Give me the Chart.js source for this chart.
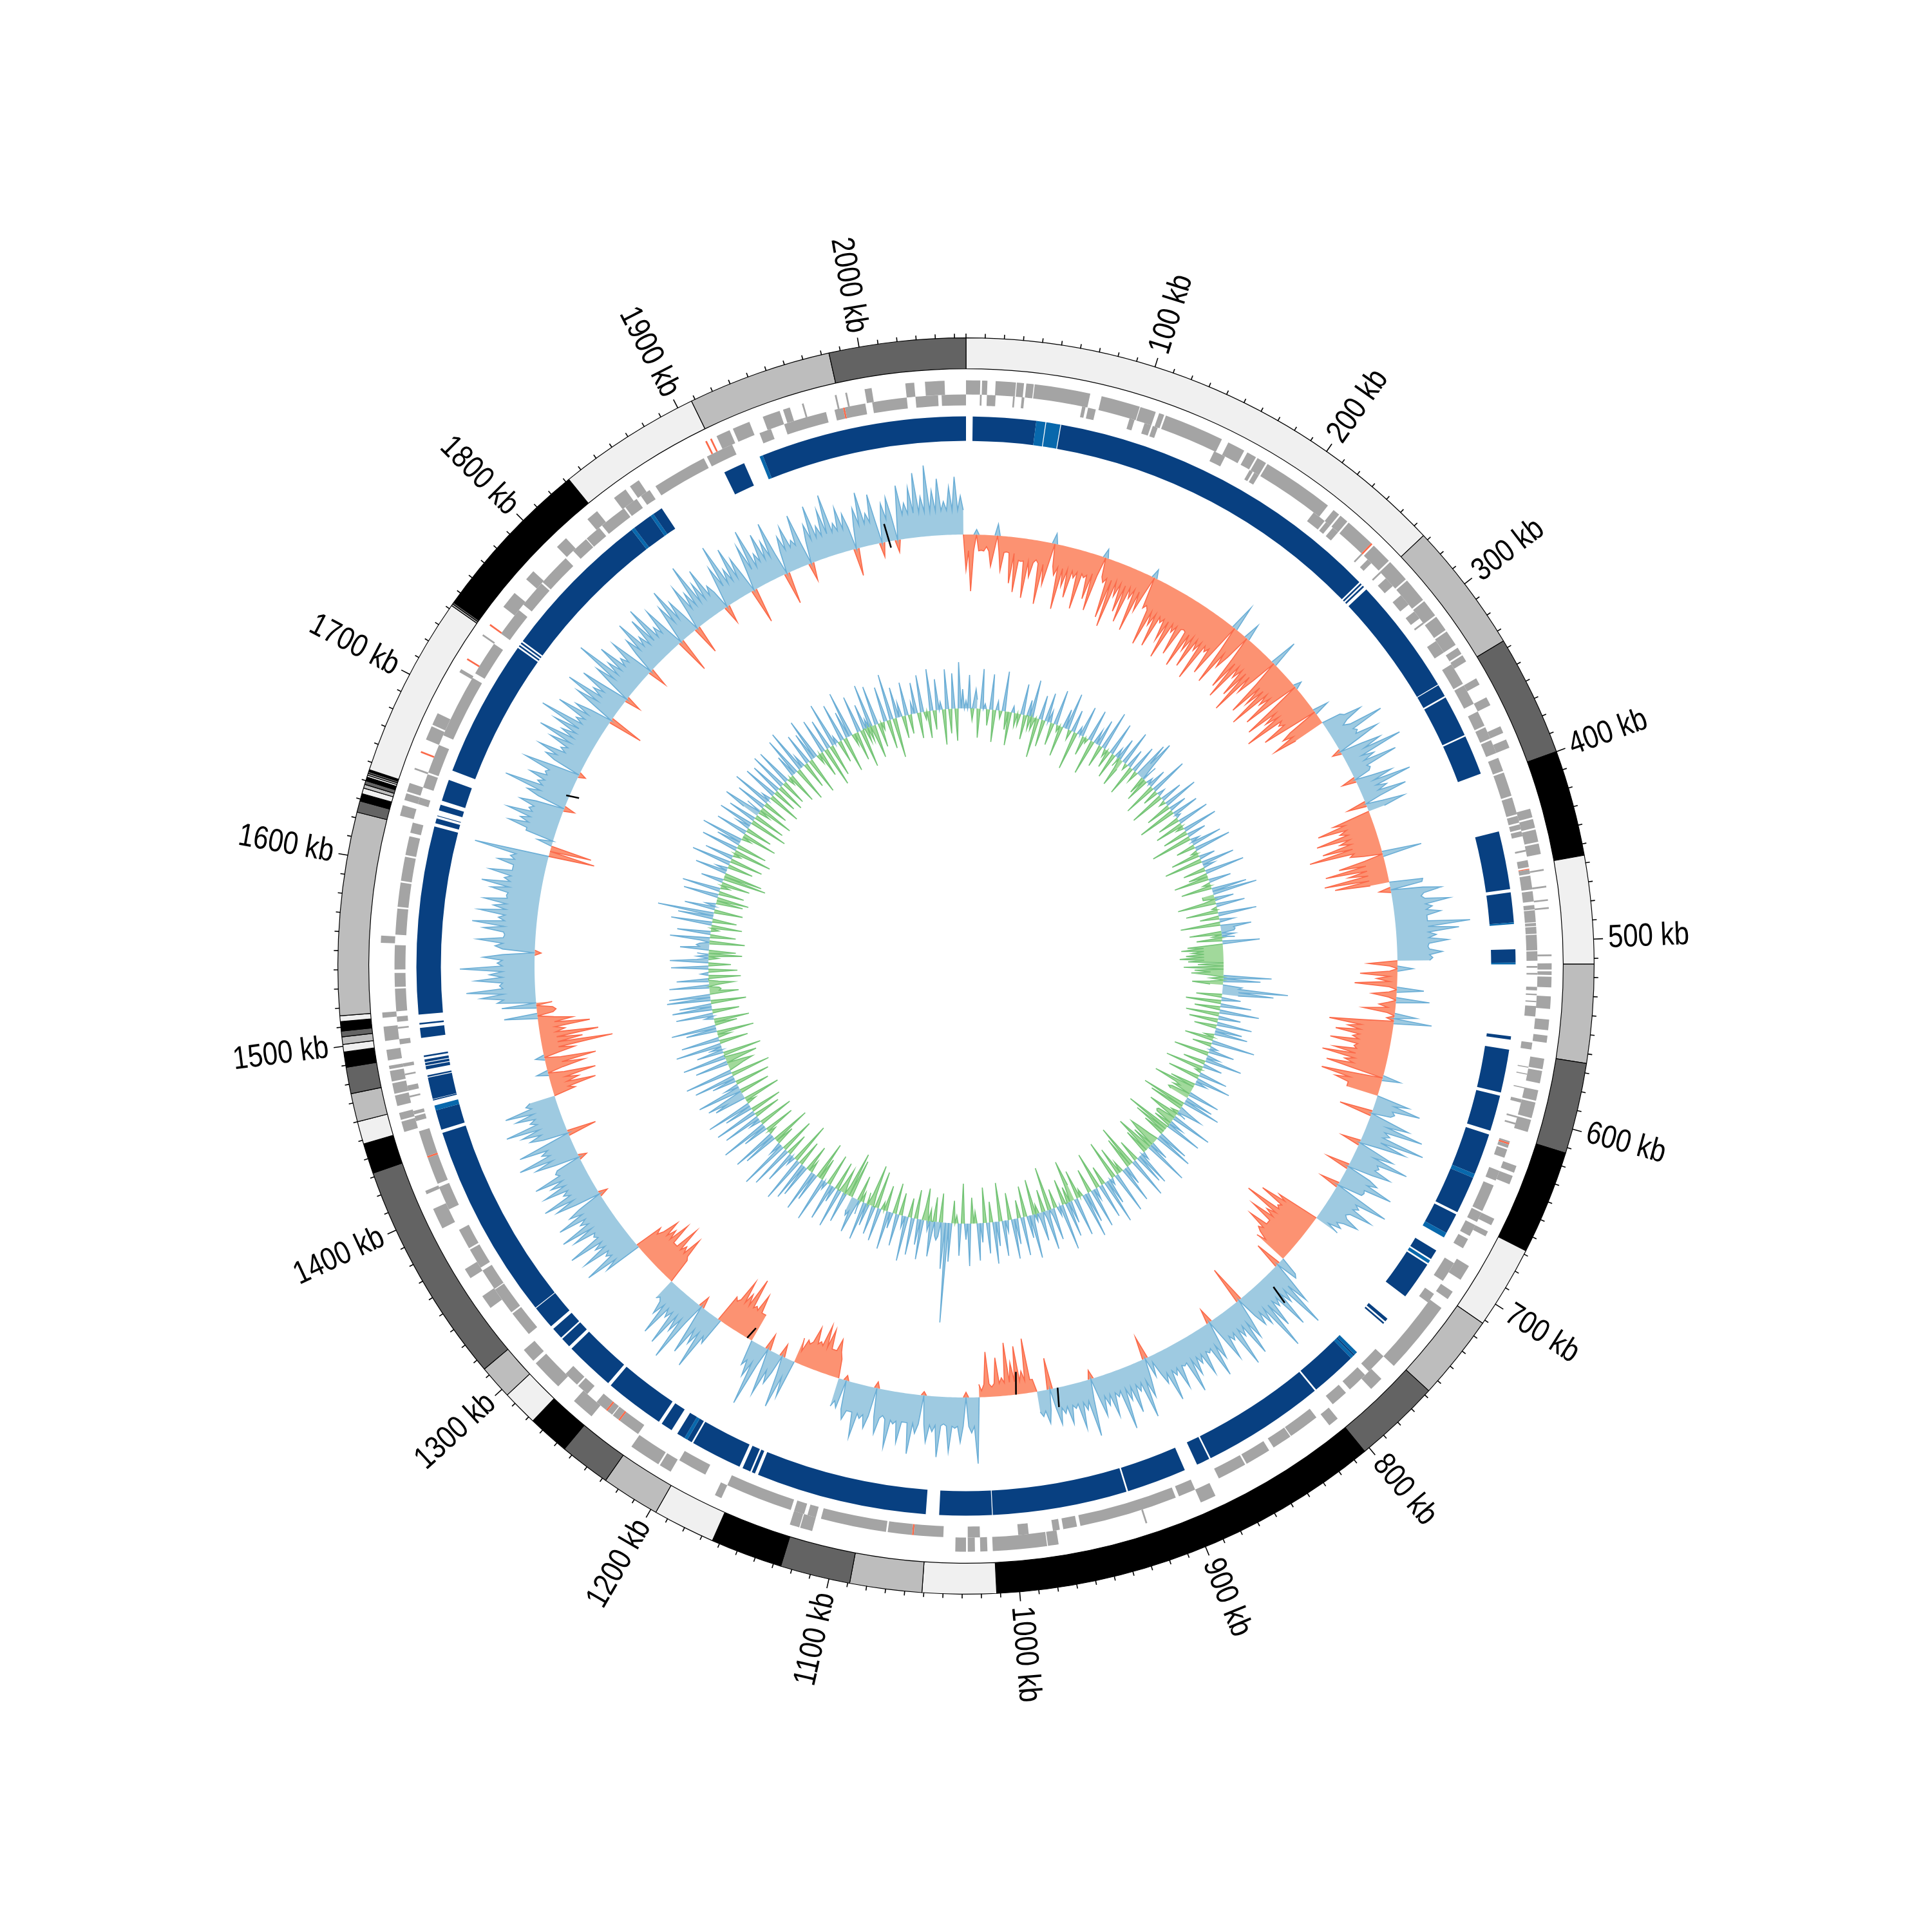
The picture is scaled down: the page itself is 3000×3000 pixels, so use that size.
<!DOCTYPE html>
<html>
<head>
<meta charset="utf-8">
<title>Circular genome map</title>
<script src="https://cdn.jsdelivr.net/npm/chart.js@4/dist/chart.umd.min.js"></script>
<style>
  html, body { margin: 0; background: #fff; }
  canvas { position: absolute; left: 0; top: 0; }
</style>
</head>
<body>
<canvas id="rings" width="3000" height="3000"></canvas>
<canvas id="tracks" width="3000" height="3000"></canvas>
<script>
const genomeKb = 2056;
const binKb = 4;

const tickKb = [100, 200, 300, 400, 500, 600, 700, 800, 900, 1000, 1100, 1200, 1300, 1400, 1500, 1600, 1700, 1800, 1900, 2000];

// contig ends in kb, shades cycle light -> black
const contigEnds = [267, 336, 400, 456, 513, 565, 613, 668, 712, 757, 803, 1012, 1051, 1089, 1126, 1164, 1197, 1228, 1255, 1277, 1296, 1314, 1432, 1448, 1460, 1475, 1489, 1497, 1501, 1505, 1508, 1513, 1516, 1623, 1629, 1633, 1636, 1638, 1640, 1642, 1643, 1644, 1645, 1646, 1742, 1743, 1744, 1832, 1908, 1984, 2056];
const contigShades = ['#f0f0f0', '#bdbdbd', '#636363', '#000000'];

// genes, flat start,end pairs in kb
const geneFwd = [0,8, 9,12, 16.6,28, 28.5,32.5, 33.8,38, 38.5,70, 76.5,98.6, 99,108, 110,113, 114,148, 152,162, 164,169.5, 170.5,176, 177,218, 222,226, 227,232, 233,250, 252,264, 265,278, 279,293, 294,304, 305,314, 315,324, 326,330, 331,335, 346,350, 358,363, 376,380, 384,389, 425,430, 431,436, 437,444, 445,451, 459.5,460.5, 469,470, 476.6,477.5, 481,482, 507.5,508.5, 512.5,516, 517,519, 520,526, 531,538, 544,550, 553,557, 566,572, 573,580, 584,590, 591,600, 601,608, 628,632, 634,639, 660,664, 668,671, 690,699, 707,712, 718,760, 770,778, 803,809, 884,893, 925,926, 976,982, 982.5,1013, 1016,1020, 1023,1027, 1028,1034, 1115,1122, 1122.5,1128, 1169,1173, 1201,1208, 1209,1227, 1255,1268, 1280,1298, 1300,1308, 1338,1346, 1358,1364, 1390,1402, 1411,1413, 1448,1454, 1455,1459, 1463,1469, 1470,1476, 1477,1483, 1484,1486, 1489,1495, 1500,1508, 1513,1516, 1555,1559, 1627,1633, 1636,1640, 1641,1646, 1654,1655, 1672,1680, 1681,1688, 1714,1716, 1738,1739, 1758,1768, 1778,1784, 1803,1810, 1826,1833, 1845,1853, 1856,1862, 1912,1920, 1922,1932, 1940,1950, 1952,1956, 1963,1964, 1982,1983, 1988,1989, 1999,2003, 2022,2027, 2033,2044];
const geneRev = [8,9, 12,17, 27,28, 32,33.5, 67,69, 70.5,75, 95,98, 104,108, 109,112, 147,154, 170,172, 173,176, 214,222, 223,226, 228,232, 250,251, 255,258, 265,266, 270,276, 283,290, 295,300, 303,304, 316,324, 332,345, 346,358, 363,372, 373,380, 381,389, 392,400, 401,415, 416,426, 427,431, 432,435, 436,439, 447,448, 453,457, 458,461, 462,470, 471,477, 479,481.5, 482,488.8, 489.3,491, 491.5,495.5, 496,505, 505.5,511, 514,515, 518,519, 526,528, 530,530.8, 534,534.8, 537,543, 558,562, 572,572.6, 576,576.6, 584,584.6, 591,593, 601,602, 605,606, 616,620, 621,626, 634,640, 643,659, 660,666, 668,675, 677,683, 693,705, 714,720, 760,772, 775,787, 790,800, 812,830, 830.5,842, 845,860, 861,878, 893,903, 905,962, 964,972, 974,978, 992,998, 1020,1027, 1041,1073, 1074,1112, 1115,1120, 1122,1128, 1130,1169, 1183,1200, 1228,1246, 1246.5,1258, 1265,1272, 1273,1282, 1313,1328, 1329,1345, 1345.5,1358, 1360,1372, 1373,1385, 1398,1412, 1414,1430, 1431,1446, 1452,1455, 1456,1458, 1466,1467, 1470,1473, 1479,1480, 1484,1486, 1497,1500, 1506,1507, 1510,1513, 1516,1529, 1530,1538, 1540,1554, 1560,1575, 1576,1590, 1591,1605, 1606,1617, 1619,1625, 1636,1640, 1646,1654, 1655,1672, 1678,1715, 1718,1738, 1745,1762, 1766,1782, 1783,1802, 1808,1818, 1818.5,1828, 1830,1846, 1847,1855, 1858,1864, 1868,1900, 1902,1918, 1935,1942, 1950,1975, 1980,1998, 2002,2022, 2027,2040, 2042,2056];
const redFwd = [250,251, 1664,1665, 1722,1723, 1745,1746, 1905,1906, 1908,1909];
const redRev = [458,458.5, 617,618, 1058,1059, 1241,1242, 1250,1251, 1430,1431, 1985,1986];

// assembly coverage blocks
const blueDark = [4,42, 57,261, 262,263, 264,265, 267,338, 338.5,346, 347,372, 373,397, 433,468, 470,488, 504,512, 556,558, 564,590, 592,613.6, 616,641, 643.5,666, 667.5,680, 692,698, 702,725, 742,744, 745,746, 771,772, 774,802, 803,877, 878,886, 894,930, 931,1012, 1012.5,1044, 1052,1155, 1157,1159, 1160,1165, 1167,1198, 1199,1202, 1204,1209, 1213,1220, 1222,1258, 1260,1290, 1292,1298, 1299,1306, 1308,1322, 1322.5,1441, 1443,1455, 1461,1461.7, 1462,1475, 1475.5,1476.5, 1480,1482, 1482.5,1484, 1484.5,1486, 1487.5,1488.5, 1499,1505, 1507,1508, 1513,1626, 1628,1631, 1632.4,1632.8, 1636,1639.5, 1642,1655, 1661,1744, 1745,1746, 1747,1748, 1749,1842, 1844,1856, 1858,1864, 1907,1920, 1932,2056];
const blueLight = [42,47.5, 48,56.5, 488,489, 512,513, 641,643.5, 680,683, 699,701, 769,771, 772,774, 1202,1204, 1455,1458, 1842,1844, 1856,1858, 1930,1932];

// skew peak per 4 kb bin, + outward (blue), - inward (orange)
const skew = [
  -55,-88,8,-24,-18,-48,18,-54,-24,-72,-85,-36,-92,-58,-30,-98,-66,16,-48,-100,
  -62,-78,-45,-92,-40,-72,-88,14,-38,-92,-104,-52,-74,-88,-46,-96,-60,14,-44,-106,
  -70,-102,-58,-84,-110,-62,-96,-48,-108,-76,-100,-66,-112,-58,-92,40,-98,-64,26,-90,
  -104,-60,-88,-112,-70,44,-96,-74,-108,-60,-92,12,-100,-72,-112,-58,-90,24,-66,-86,
  30,62,25,88,40,70,-14,65,95,45,78,30,-22,58,85,42,70,-30,60,
  -60,-88,-55,-95,-60,-90,-113,-50,62,-72,-95,-60,-100,-85,
  52,-18,78,45,88,60,72,50,116,98,62,80,48,70,55,
  -45,24,-58,-32,-66,42,-38,52,-26,-50,34,
  59,-100,-70,-88,-60,-94,-55,-85,-102,-65,-92,28,-96,-72,-50,
  52,73,35,-52,64,90,40,99,72,-30,60,88,45,68,-36,55,84,42,-30,90,48,75,35,62,30,20,
  -68,-95,-60,-112,-70,-92,-55,-85,-62,-40,
  30,-42,70,106,55,92,48,78,111,60,
  55,-60,65,88,50,95,45,72,-23,60,
  85,40,71,48,62,86,38,70,45,82,
  50,10,-36,60,90,44,75,52,95,40,
  68,48,62,-14,89,45,72,38,60,42,
  57,-49,52,40,
  -20,-85,-35,-75,-50,-82,-28,-60,-15,-70,-10,
  103,55,-8,70,48,85,42,94,55,72,-6,60,93,45,78,50,88,40,70,-10,65,52,84,45,60,-8,35,
  -30,-59,-40,-70,-74,-45,-65,-35,-20,
  60,81,-20,50,72,-25,98,55,40,
  -45,-73,-50,-92,-62,-80,-40,
  45,93,58,80,-18,103,60,90,48,85,55,30,
  -40,-75,-55,-83,-45,-78,-60,-70,-35,
  60,90,48,82,55,94,45,75,90,52,84,60,-14,72,88,50,78,62,84,45,-13,70,93,52,85,-46,60,70,92,50,70,84,48,
  -35,-70,-45,-74,18,-60,-80,14,-50,-111,-65,-91,-40,-80,-54,52,-30,54,
  60,85,107,55,92,70,116,58,80,-10,62,90,48,82,100,60,92,70,86,52,78,94,60,85,50,76,58,
  117,-72,-65,24,
  45,76,60,84,52,70,-17,65,105,55,
  72,50,88,-11,62,78,45,68,91,58,
  76,104,48,85,60,-55,70,92,52,78,
  -25,66,106,58,80,48,72,-30,60,84,
  50,75,88,45,70,-55,62,85,58,-45,
  72,55,97,60,78,44,-28,65,97,52,
  82,60,-55,72,93,50,78,62,88,-50,
  58,70,45,82,-28,60,87,52,75,96,
  48,70,58,-43,62,85,50,78,-22,60,
  68,-19,84,55,78,100,62,110,70,88,
  52,74,90,60
];

// solid band under the skew peaks: from kb, offset
const skewBand = [[0,-25],[40,-35],[100,-30],[150,-50],[220,-42],[285,-50],[320,35],[352,26],[396,-43],[425,-30],[452,50],[512,-12],[556,-50],[616,30],[660,40],[720,-55],[760,35],[880,32],[976,-20],[1020,45],[1128,-40],[1164,30],[1198,-45],[1229,35],[1276,-45],[1313,40],[1444,-25],[1516,50],[1624,0],[1640,45],[1700,35],[1800,30],[1900,35],[2000,38]];

// the few black marks on the skew track: kb, offset at both ends
const skewMarks = [[778, 20, 50], [957, 0, 30], [988, -35, 0], [1200, -20, 0], [1673, 5, -15], [1996, 28, -10]];

// gc peak per 4 kb bin, + outward (blue), - inward (green)
const gc = [
  12,52,-18,30,-45,62,8,-25,55,-50,14,-12,62,-28,-52,10,-20,-18,48,-38,25,58,-8,-62,38,
  -42,45,18,-35,55,-10,-48,30,58,-15,35,-60,12,48,-30,-8,50,-55,22,42,-35,62,-12,-28,52,
  -40,15,35,-45,55,-10,30,-48,44,-18,58,66,-28,-38,10,30,-52,60,-25,12,-55,35,-10,55,-40,
  28,-60,42,8,-35,50,-45,-12,55,-40,30,-65,14,48,-30,58,-10,-45,25,-60,52,18,-35,62,-30,
  -55,35,-12,-48,55,70,-18,30,-60,45,-8,-50,60,-30,22,-62,48,22,-50,-15,-40,58,-55,-65,-48,
  -58,-68,-55,-40,-62,-45,-50,75,58,-48,30,102,80,-40,30,-55,48,-40,62,-52,35,-45,55,-35,42,
  52,-15,-45,68,-30,12,40,-55,20,58,-35,30,-60,-10,45,-50,55,18,-40,-65,-20,50,-35,45,60,
  -70,-55,38,-12,-48,65,-30,22,58,-72,-55,-35,50,62,-15,-48,30,70,-60,-40,12,55,48,-35,65,
  -68,-50,30,58,-18,-45,65,-62,10,40,70,-30,55,-58,18,62,-38,48,70,-12,-45,60,-65,35,55,
  -40,72,15,-30,50,-68,62,-35,45,-14,-55,68,35,-48,60,-28,40,62,-42,18,55,-60,38,65,-32,
  48,-55,30,58,-18,-40,66,25,-62,50,-12,-35,60,155,72,-45,28,-38,55,15,-50,62,40,-45,58,
  -30,70,18,-35,50,-48,25,60,-40,-12,52,-58,45,-65,35,60,-15,-40,55,30,-60,-70,48,-38,62,
  -45,25,58,-50,12,70,-35,-60,45,66,-18,-42,52,62,-40,72,-65,14,50,-35,68,-55,78,20,-30,
  -62,55,70,-12,-48,40,75,-55,18,60,-42,68,-50,45,72,-15,-58,50,60,-48,70,22,-55,38,65,
  -62,75,-14,-40,52,-50,68,-60,42,18,72,-45,60,-20,-58,48,70,-35,-55,14,58,-42,62,50,-55,
  68,64,-45,-18,62,-38,50,-50,12,-45,58,-35,60,-15,-52,-42,45,20,-55,62,-40,52,-12,-48,64,
  -38,55,88,-45,48,16,-42,-50,55,-40,60,-14,-45,35,-68,-60,50,18,-40,62,-52,45,-12,-60,58,
  -48,38,66,-15,-55,50,-42,22,55,-60,45,-50,60,-18,-55,48,-40,62,14,-52,55,-38,50,-45,60,
  -40,58,-12,-48,35,62,-55,68,20,-42,50,-58,45,65,-15,-40,55,-62,48,-50,70,12,-35,60,-55,
  42,72,-18,-45,58,-60,40,14,68,-52,62,-38,-12,55,-45,72,-62,48,22,-35,52,-30,18,48,-40,
  58,-12,-42,65,-30,48,12,-55,62,-38,55,-50,72,30
];

// wedges of solid gc fill: from kb, offset (0 = none)
const gcBand = [[0,0],[8,14],[16,0],[80,-20],[90,0],[205,-15],[215,0],[240,25],[252,0],[422,-18],[434,0],[465,20],[480,0],[490,-30],[508,0],[522,-20],[540,25],[552,0],[676,-30],[692,0],[704,15],[716,-28],[734,0],[755,-35],[772,0],[885,-25],[898,0],[915,12],[945,0],[1055,22],[1072,-18],[1085,0],[1148,-18],[1160,0],[1165,22],[1180,0],[1185,-15],[1197,0],[1368,30],[1382,0],[1410,-25],[1425,0],[1510,-15],[1525,0],[1550,18],[1560,0],[1565,15],[1576,0],[1745,25],[1755,0],[1924,-22],[1935,0]];

const GREY = '#a4a4a4', RED = '#fb6a4a', NAVY = '#084081', MIDBLUE = '#0868ac';
const SKEW_BASE = 670, GC_BASE = 400;

function pairs(flat, color) {
  const out = [];
  for (let i = 0; i < flat.length; i += 2) out.push([flat[i], flat[i + 1], color]);
  return out;
}

// cut the coloured spans out of the plain ones so both can sit on one ring
function cutOut(spans, marks) {
  const out = [];
  spans.forEach(function (sp) {
    let s = sp[0];
    marks.forEach(function (m) {
      if (m[0] >= s && m[1] <= sp[1]) {
        out.push([s, m[0], sp[2]]);
        s = m[1];
      }
    });
    out.push([s, sp[1], sp[2]]);
  });
  return out;
}

// doughnut data: every span preceded by a transparent gap, summing to the genome
function ringFrom(spans) {
  const data = [], colors = [];
  let pos = 0;
  spans.slice().sort(function (a, b) { return a[0] - b[0]; }).forEach(function (sp) {
    const s = Math.max(sp[0], pos);
    if (sp[1] <= s) return;
    if (s > pos) { data.push(s - pos); colors.push('rgba(0,0,0,0)'); }
    data.push(sp[1] - s);
    colors.push(sp[2]);
    pos = sp[1];
  });
  if (pos < genomeKb) { data.push(genomeKb - pos); colors.push('rgba(0,0,0,0)'); }
  return { data: data, backgroundColor: colors, borderWidth: 0 };
}

function geneRing(flat, redFlat) {
  const reds = pairs(redFlat, RED);
  return ringFrom(cutOut(pairs(flat, GREY), reds).concat(reds));
}

function spacer(weight) {
  return { data: [genomeKb], backgroundColor: ['rgba(0,0,0,0)'], borderWidth: 0, weight: weight };
}

const contigData = contigEnds.map(function (end, i) { return end - (i ? contigEnds[i - 1] : 0); });
const contigColors = contigEnds.map(function (end, i) { return contigShades[i % 4]; });

new Chart(document.getElementById('rings'), {
  type: 'doughnut',
  data: {
    datasets: [
      { data: contigData, backgroundColor: contigColors, borderColor: '#000', borderWidth: 1.2, weight: 48 },
      spacer(18),
      Object.assign(geneRing(geneFwd, redFwd), { weight: 22 }),
      Object.assign(geneRing(geneRev, redRev), { weight: 17 }),
      spacer(17),
      Object.assign(ringFrom(pairs(blueDark, NAVY).concat(pairs(blueLight, MIDBLUE))), { weight: 38 })
    ]
  },
  options: {
    responsive: false,
    animation: false,
    devicePixelRatio: 1,
    cutout: '83.6%',
    layout: { padding: 524 },
    plugins: { legend: { display: false }, tooltip: { enabled: false } }
  }
});

function bandAt(band, kb) {
  let value = 0;
  band.forEach(function (b) { if (b[0] <= kb) value = b[1]; });
  return value;
}

// the radar axis runs at half-bin steps: peaks on even steps, band on odd steps,
// so a peak stays narrow and sits on its band, or on the baseline when there is none
function side(values, band, base, sign) {
  const n = values.length;
  const out = [];
  values.forEach(function (v, i) {
    const kb = i * binKb;
    const bandHere = bandAt(band, kb) * sign > 0;
    if (v * sign > 0) out.push(base + v);
    else if (bandHere) out.push(base);
    else out.push(null);
    const mid = bandAt(band, kb + binKb / 2);
    if (mid * sign > 0) out.push(base + mid);
    else if (v * sign > 0 || values[(i + 1) % n] * sign > 0) out.push(base);
    else out.push(null);
  });
  return out;
}

function area(values, band, base, sign, line, fill) {
  return {
    data: side(values, band, base, sign),
    borderColor: line,
    backgroundColor: fill,
    borderWidth: 1.6,
    pointRadius: 0,
    tension: 0,
    spanGaps: false,
    fill: { value: base }
  };
}

const stepLabels = [];
for (let kb = 0; kb < genomeKb; kb += binKb / 2) stepLabels.push(kb);

const markData = stepLabels.map(function () { return null; });
skewMarks.forEach(function (m) {
  const i = Math.round(m[0] / (binKb / 2));
  markData[i] = SKEW_BASE + m[1];
  markData[i + 1] = SKEW_BASE + m[2];
});

const ringTicks = {
  id: 'ringTicks',
  afterDraw(chart) {
    const ctx = chart.ctx, r = chart.scales.r;
    const step = binKb / 2;
    ctx.save();
    ctx.strokeStyle = '#000';
    ctx.fillStyle = '#000';
    ctx.lineWidth = 1.6;
    for (let kb = 0; kb < genomeKb; kb += 10) {
      const major = tickKb.indexOf(kb) >= 0;
      const a = r.getPointPosition(kb / step, 975);
      const b = r.getPointPosition(kb / step, major ? 990 : 982);
      ctx.beginPath();
      ctx.moveTo(a.x, a.y);
      ctx.lineTo(b.x, b.y);
      ctx.stroke();
    }
    // the reference label face is a narrow grotesque: Liberation Sans squeezed
    ctx.font = '50px "Liberation Sans", sans-serif';
    ctx.textBaseline = 'middle';
    tickKb.forEach(function (kb) {
      const p = r.getPointPosition(kb / step, 998);
      const turn = kb / genomeKb * 2 * Math.PI;
      const rightSide = turn < Math.PI;
      ctx.save();
      ctx.translate(p.x, p.y);
      ctx.rotate(rightSide ? turn - Math.PI / 2 : turn + Math.PI / 2);
      ctx.scale(0.84, 1);
      ctx.textAlign = rightSide ? 'left' : 'right';
      ctx.fillText(kb + ' kb', 0, 0);
      ctx.restore();
    });
    ctx.restore();
  }
};

new Chart(document.getElementById('tracks'), {
  type: 'radar',
  data: {
    labels: stepLabels,
    datasets: [
      { data: markData, borderColor: '#000', borderWidth: 2.6, pointRadius: 0, tension: 0, spanGaps: false, fill: false },
      area(skew, skewBand, SKEW_BASE, 1, '#6baed6', '#9ecae1'),
      area(skew, skewBand, SKEW_BASE, -1, '#fb6a4a', '#fc9272'),
      area(gc, gcBand, GC_BASE, -1, '#74c476', '#a1d99b'),
      area(gc, gcBand, GC_BASE, 1, '#6baed6', '#9ecae1')
    ]
  },
  options: {
    responsive: false,
    animation: false,
    devicePixelRatio: 1,
    layout: { padding: 0 },
    scales: {
      r: {
        min: 0,
        max: 1500,
        grid: { display: false },
        angleLines: { display: false },
        ticks: { display: false },
        pointLabels: { display: false }
      }
    },
    plugins: { legend: { display: false }, tooltip: { enabled: false } }
  },
  plugins: [ringTicks]
});
</script>
</body>
</html>
